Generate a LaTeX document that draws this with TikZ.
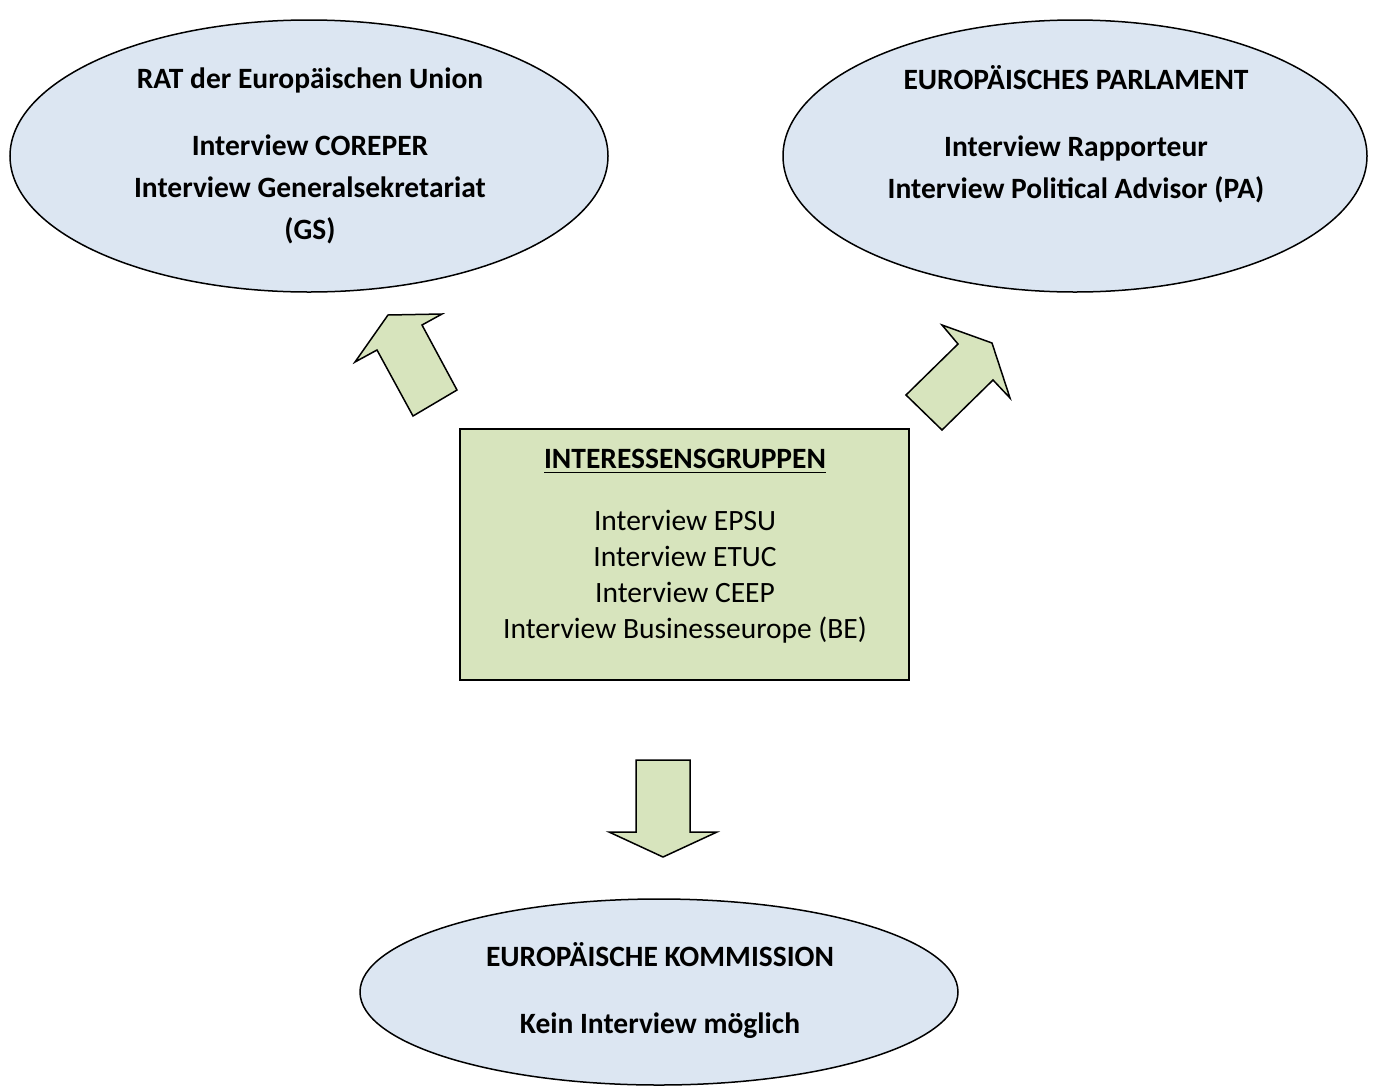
\documentclass[tikz,border=0pt]{standalone}
\usepackage{fontspec}
\setmainfont{Carlito}
\usepackage{tikz}
\usetikzlibrary{shapes, positioning, calc}
\definecolor{orgblue}{HTML}{DCE6F2}
\definecolor{grpgreen}{HTML}{D7E4BD}

\begin{document}
\begin{tikzpicture}[
  x=0.4pt, y=-0.4pt,
  organ/.style={ellipse, draw=black, fill=orgblue, line width=0.6pt,
                inner sep=0pt},
  orgtext/.style={align=center, inner sep=0pt,
                  font=\fontsize{11.8}{16.8}\selectfont\bfseries},
  group/.style={rectangle, draw=black, fill=grpgreen, line width=0.6pt,
                minimum width=449*0.4pt, minimum height=251*0.4pt},
  grouptext/.style={align=center, inner sep=0pt,
                    font=\fontsize{11.8}{14.4}\selectfont},
  blockarrow/.style={draw=black, fill=grpgreen, line width=0.6pt, line join=miter}
]
  \useasboundingbox (0,0) rectangle (1373,1087);

  % Organe
  \node[organ, minimum width=598*0.4pt, minimum height=272*0.4pt] (rat)        at (309,156) {};
  \node[organ, minimum width=584*0.4pt, minimum height=272*0.4pt] (parlament)  at (1075,156) {};
  \node[organ, minimum width=598*0.4pt, minimum height=186*0.4pt] (kommission) at (659,992) {};
  \node[group] (gruppen) at (684.5,554.5) {};

  \node[orgtext] (rattext) at (310,155.5)
    {RAT der Europäischen Union\\[10pt]Interview COREPER\\Interview Generalsekretariat\\(GS)};
  \node[orgtext] (parltext) at (1076,134)
    {EUROPÄISCHES PARLAMENT\\[10pt]Interview Rapporteur\\Interview Political Advisor (PA)};
  \node[orgtext] (kommtext) at (660,990.5)
    {EUROPÄISCHE KOMMISSION\\[10pt]Kein Interview möglich};
  \node[grouptext] (grptext) at (685,546)
    {\textbf{\underline{INTERESSENSGRUPPEN}}\\[10.4pt]Interview EPSU\\Interview ETUC\\Interview CEEP\\Interview Businesseurope (BE)};

  % Pfeile
  \filldraw[blockarrow] (388,315) -- (442,314) -- (422,325) -- (457,390)
    -- (413,416) -- (377,350) -- (355,362) -- cycle;
  \filldraw[blockarrow] (942,325) -- (992,343) -- (1010,398) -- (993,380)
    -- (942,430) -- (906,395) -- (958,344) -- cycle;
  \filldraw[blockarrow] (636,760) -- (690,760) -- (690,832) -- (717,832)
    -- (663,857) -- (609,832) -- (636,832) -- cycle;

\end{tikzpicture}
\end{document}
